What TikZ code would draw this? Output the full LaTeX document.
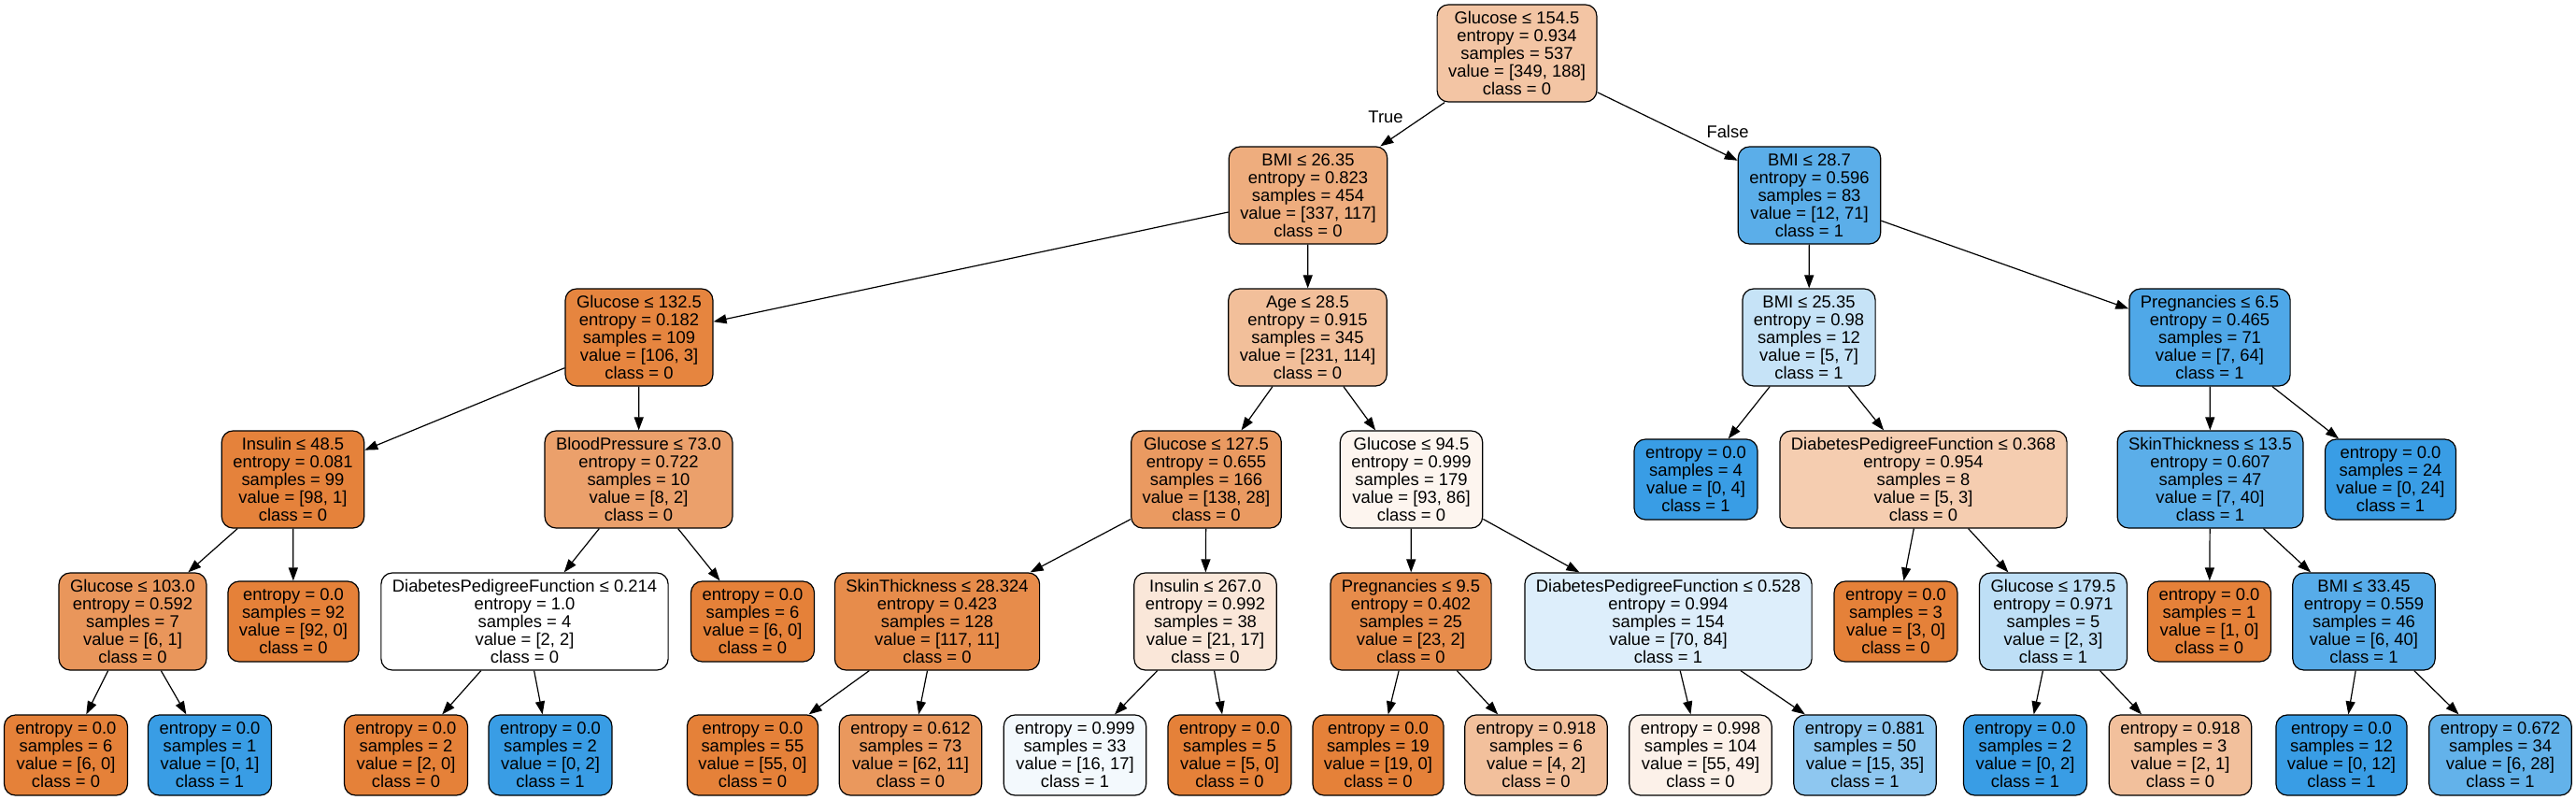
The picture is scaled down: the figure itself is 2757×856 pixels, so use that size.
\documentclass[tikz,border=0pt]{standalone}
\usepackage{fontspec}
\setmainfont{Liberation Sans}
\usetikzlibrary{arrows.meta}
\definecolor{co}{RGB}{229,129,57}
\definecolor{cb}{RGB}{57,157,229}
\newcommand{\treefont}{\fontsize{18.4}{19}\selectfont}
\tikzset{
  tn/.style={draw=black, line width=1.2pt, rounded corners=12pt, align=center,
    inner xsep=12pt, inner ysep=2pt, font=\treefont},
  dn/.style={tn, minimum height=104pt},
  lf/.style={tn, minimum height=86pt},
  edge/.style={-{Triangle[length=14pt,width=10pt]}, line width=1.2pt, draw=black},
  elab/.style={font=\treefont, inner sep=0pt}
}
\begin{document}
\begin{tikzpicture}[x=1pt,y=-1pt]
\useasboundingbox (0,0) rectangle (2757,856);
\fill[white] (0,0) rectangle (2757,856);
% level 0
\node[dn, fill=co!46] (r) at (1623.5,57) {Glucose ≤ 154.5\\entropy = 0.934\\samples = 537\\value = [349, 188]\\class = 0};
% level 1
\node[dn, fill=co!65] (a) at (1400,209) {BMI ≤ 26.35\\entropy = 0.823\\samples = 454\\value = [337, 117]\\class = 0};
\node[dn, fill=cb!83] (b) at (1936.5,209) {BMI ≤ 28.7\\entropy = 0.596\\samples = 83\\value = [12, 71]\\class = 1};
% level 2
\node[dn, fill=co!97] (aa) at (684,361) {Glucose ≤ 132.5\\entropy = 0.182\\samples = 109\\value = [106, 3]\\class = 0};
\node[dn, fill=co!51] (ab) at (1399.5,361) {Age ≤ 28.5\\entropy = 0.915\\samples = 345\\value = [231, 114]\\class = 0};
\node[dn, fill=cb!29] (ba) at (1936,361) {BMI ≤ 25.35\\entropy = 0.98\\samples = 12\\value = [5, 7]\\class = 1};
\node[dn, fill=cb!89] (bb) at (2365,361) {Pregnancies ≤ 6.5\\entropy = 0.465\\samples = 71\\value = [7, 64]\\class = 1};
% level 3
\node[dn, fill=co!99] (aaa) at (313.5,513) {Insulin ≤ 48.5\\entropy = 0.081\\samples = 99\\value = [98, 1]\\class = 0};
\node[dn, fill=co!75] (aab) at (683.5,513) {BloodPressure ≤ 73.0\\entropy = 0.722\\samples = 10\\value = [8, 2]\\class = 0};
\node[dn, fill=co!80] (aba) at (1291,513) {Glucose ≤ 127.5\\entropy = 0.655\\samples = 166\\value = [138, 28]\\class = 0};
\node[dn, fill=co!8] (abb) at (1510.5,513) {Glucose ≤ 94.5\\entropy = 0.999\\samples = 179\\value = [93, 86]\\class = 0};
\node[lf, fill=cb] (baa) at (1815,513) {entropy = 0.0\\samples = 4\\value = [0, 4]\\class = 1};
\node[dn, fill=co!40] (bab) at (2058.5,513) {DiabetesPedigreeFunction ≤ 0.368\\entropy = 0.954\\samples = 8\\value = [5, 3]\\class = 0};
\node[dn, fill=cb!83] (bba) at (2365.5,513) {SkinThickness ≤ 13.5\\entropy = 0.607\\samples = 47\\value = [7, 40]\\class = 1};
\node[lf, fill=cb] (bbb) at (2558.5,513) {entropy = 0.0\\samples = 24\\value = [0, 24]\\class = 1};
% level 4
\node[dn, fill=co!83] (aaaa) at (142,665) {Glucose ≤ 103.0\\entropy = 0.592\\samples = 7\\value = [6, 1]\\class = 0};
\node[lf, fill=co] (aaab) at (314,665) {entropy = 0.0\\samples = 92\\value = [92, 0]\\class = 0};
\node[dn, fill=white] (aaba) at (561.5,665) {DiabetesPedigreeFunction ≤ 0.214\\entropy = 1.0\\samples = 4\\value = [2, 2]\\class = 0};
\node[lf, fill=co] (aabb) at (805.5,665) {entropy = 0.0\\samples = 6\\value = [6, 0]\\class = 0};
\node[dn, fill=co!91] (abaa) at (1003,665) {SkinThickness ≤ 28.324\\entropy = 0.423\\samples = 128\\value = [117, 11]\\class = 0};
\node[dn, fill=co!19] (abab) at (1290,665) {Insulin ≤ 267.0\\entropy = 0.992\\samples = 38\\value = [21, 17]\\class = 0};
\node[dn, fill=co!91] (abba) at (1510,665) {Pregnancies ≤ 9.5\\entropy = 0.402\\samples = 25\\value = [23, 2]\\class = 0};
\node[dn, fill=cb!17] (abbb) at (1785.5,665) {DiabetesPedigreeFunction ≤ 0.528\\entropy = 0.994\\samples = 154\\value = [70, 84]\\class = 1};
\node[lf, fill=co] (baba) at (2029,665) {entropy = 0.0\\samples = 3\\value = [3, 0]\\class = 0};
\node[dn, fill=cb!33] (babb) at (2197.5,665) {Glucose ≤ 179.5\\entropy = 0.971\\samples = 5\\value = [2, 3]\\class = 1};
\node[lf, fill=co] (bbaa) at (2364.5,665) {entropy = 0.0\\samples = 1\\value = [1, 0]\\class = 0};
\node[dn, fill=cb!85] (bbab) at (2530,665) {BMI ≤ 33.45\\entropy = 0.559\\samples = 46\\value = [6, 40]\\class = 1};
% level 5
\node[lf, fill=co] (l1) at (70.5,808) {entropy = 0.0\\samples = 6\\value = [6, 0]\\class = 0};
\node[lf, fill=cb] (l2) at (224.5,808) {entropy = 0.0\\samples = 1\\value = [0, 1]\\class = 1};
\node[lf, fill=co] (l3) at (434.5,808) {entropy = 0.0\\samples = 2\\value = [2, 0]\\class = 0};
\node[lf, fill=cb] (l4) at (589,808) {entropy = 0.0\\samples = 2\\value = [0, 2]\\class = 1};
\node[lf, fill=co] (l5) at (805.5,808) {entropy = 0.0\\samples = 55\\value = [55, 0]\\class = 0};
\node[lf, fill=co!82] (l6) at (974.5,808) {entropy = 0.612\\samples = 73\\value = [62, 11]\\class = 0};
\node[lf, fill=cb!6] (l7) at (1150.5,808) {entropy = 0.999\\samples = 33\\value = [16, 17]\\class = 1};
\node[lf, fill=co] (l8) at (1316,808) {entropy = 0.0\\samples = 5\\value = [5, 0]\\class = 0};
\node[lf, fill=co] (l9) at (1475,808) {entropy = 0.0\\samples = 19\\value = [19, 0]\\class = 0};
\node[lf, fill=co!50] (l10) at (1644,808) {entropy = 0.918\\samples = 6\\value = [4, 2]\\class = 0};
\node[lf, fill=co!11] (l11) at (1820,808) {entropy = 0.998\\samples = 104\\value = [55, 49]\\class = 0};
\node[lf, fill=cb!57] (l12) at (1996,808) {entropy = 0.881\\samples = 50\\value = [15, 35]\\class = 1};
\node[lf, fill=cb] (l13) at (2167.5,808) {entropy = 0.0\\samples = 2\\value = [0, 2]\\class = 1};
\node[lf, fill=co!50] (l14) at (2333.5,808) {entropy = 0.918\\samples = 3\\value = [2, 1]\\class = 0};
\node[lf, fill=cb] (l15) at (2506,808) {entropy = 0.0\\samples = 12\\value = [0, 12]\\class = 1};
\node[lf, fill=cb!79] (l16) at (2676,808) {entropy = 0.672\\samples = 34\\value = [6, 28]\\class = 1};
% edge labels
\node[elab] (tlab) at (1483,125) {True};
\node[elab] (flab) at (1849,141) {False};
% edges
\draw[edge] (r) -- (a);
\draw[edge] (r) -- (b);
\draw[edge] (a) -- (aa);
\draw[edge] (a) -- (ab);
\draw[edge] (b) -- (ba);
\draw[edge] (b) -- (bb);
\draw[edge] (aa) -- (aaa);
\draw[edge] (aa) -- (aab);
\draw[edge] (ab) -- (aba);
\draw[edge] (ab) -- (abb);
\draw[edge] (ba) -- (baa);
\draw[edge] (ba) -- (bab);
\draw[edge] (bb) -- (bba);
\draw[edge] (bb) -- (bbb);
\draw[edge] (aaa) -- (aaaa);
\draw[edge] (aaa) -- (aaab);
\draw[edge] (aab) -- (aaba);
\draw[edge] (aab) -- (aabb);
\draw[edge] (aba) -- (abaa);
\draw[edge] (aba) -- (abab);
\draw[edge] (abb) -- (abba);
\draw[edge] (abb) -- (abbb);
\draw[edge] (bab) -- (baba);
\draw[edge] (bab) -- (babb);
\draw[edge] (bba) -- (bbaa);
\draw[edge] (bba) -- (bbab);
\draw[edge] (aaaa) -- (l1);
\draw[edge] (aaaa) -- (l2);
\draw[edge] (aaba) -- (l3);
\draw[edge] (aaba) -- (l4);
\draw[edge] (abaa) -- (l5);
\draw[edge] (abaa) -- (l6);
\draw[edge] (abab) -- (l7);
\draw[edge] (abab) -- (l8);
\draw[edge] (abba) -- (l9);
\draw[edge] (abba) -- (l10);
\draw[edge] (abbb) -- (l11);
\draw[edge] (abbb) -- (l12);
\draw[edge] (babb) -- (l13);
\draw[edge] (babb) -- (l14);
\draw[edge] (bbab) -- (l15);
\draw[edge] (bbab) -- (l16);
\end{tikzpicture}
\end{document}
